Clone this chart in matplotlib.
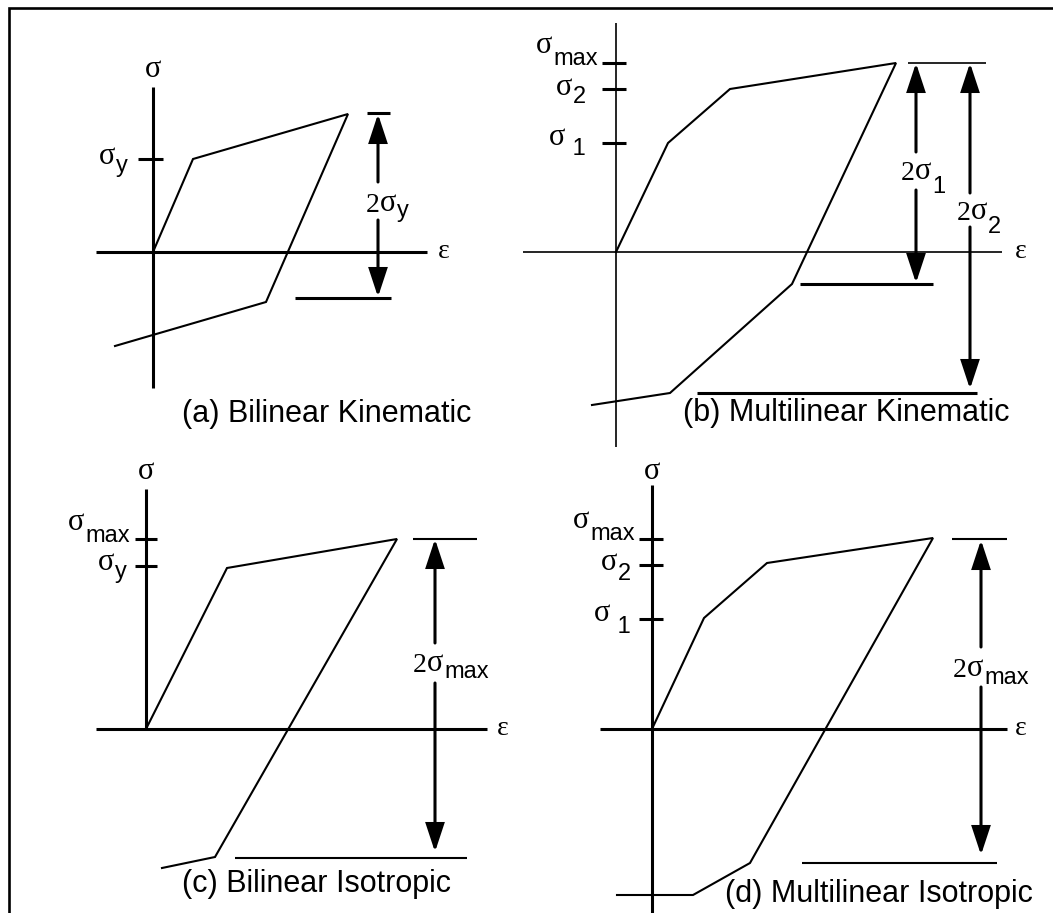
import matplotlib
matplotlib.use("Agg")
import matplotlib.pyplot as plt
from matplotlib.patches import FancyArrowPatch, ArrowStyle

W, H = 1053, 913
SERIF = "Liberation Serif"
SANS = "Liberation Sans"
SYM_SIZE = 22
EPS_SIZE = 20
SUB_SIZE = 17
CAP_SIZE = 22
PT = 0.72  # points per pixel at 100 dpi

# stress-strain paths: strain to the right, stress upward, origin where the axes cross
bk_eps = [0, 40, 195, 113, -38]
bk_sig = [0, 93, 138, -50, -94]
mk_eps = [0, 52, 114, 280, 176, 54, -24]
mk_sig = [0, 109, 163, 189, -32, -141, -153]
bi_eps = [0, 81, 251, 69, 16]
bi_sig = [0, 161, 190, -128, -139]
mi_eps = [0, 52, 115, 281, 98, 41, -35]
mi_sig = [0, 111, 166, 191, -134, -166, -166]

# stress levels marked on the sigma axis and their subscripts
bk_levels, bk_subs = [93], ["y"]
mk_levels, mk_subs = [189, 163, 109], ["max", "2", " 1"]
bi_levels, bi_subs = [190, 163], ["max", "y"]
mi_levels, mi_subs = [190, 164, 110], ["max", "2", " 1"]

captions = ["(a) Bilinear Kinematic", "(b) Multilinear Kinematic",
            "(c) Bilinear Isotropic", "(d) Multilinear Isotropic"]

fig = plt.figure(figsize=(W / 100, H / 100), dpi=100)

# outer frame
frame = fig.add_axes([0, 0, 1, 1])
frame.set_xlim(0, W)
frame.set_ylim(H, 0)
frame.axis("off")
frame.plot([9, 9, W], [H, 8, 8], color="black", lw=1.9, solid_joinstyle="miter")


def panel_axes(ox, oy):
    ax = fig.add_axes([0, 0, 1, 1])
    ax.set_xlim(-ox, W - ox)
    ax.set_ylim(oy - H, oy)
    ax.axis("off")
    ax.patch.set_visible(False)
    return ax


def label_right(ax, x, y, sub, raise_px):
    # subscript anchored at its right end, sigma placed just left of it
    t = ax.text(x, y, sub, ha="right", va="baseline", family=SANS, size=SUB_SIZE)
    ax.annotate("σ", xy=(0, 0), xycoords=t, xytext=(-0.5, raise_px * PT),
                textcoords="offset points", ha="right", va="bottom",
                family=SERIF, size=SYM_SIZE)


def label_left(ax, x, y, sub, drop_px):
    # "2σ" followed by a lowered subscript
    two = ax.text(x, y, "2", ha="left", va="baseline", family=SERIF, size=EPS_SIZE)
    sig = ax.annotate("σ", xy=(1, 0), xycoords=two, xytext=(0, 0),
                      textcoords="offset points", ha="left", va="bottom",
                      family=SERIF, size=SYM_SIZE)
    ax.annotate(sub, xy=(1, 0), xycoords=sig, xytext=(0.5, -drop_px * PT),
                textcoords="offset points", ha="left", va="bottom",
                family=SANS, size=SUB_SIZE)


def axes_lines(ax, exlim, sylim, lw, eps_at, sig_label=None):
    ax.plot(exlim, [0, 0], color="black", lw=lw, solid_capstyle="butt")
    ax.plot([0, 0], sylim, color="black", lw=lw, solid_capstyle="butt")
    ax.text(eps_at, -6, "ε", ha="left", va="baseline", family=SERIF, size=EPS_SIZE)
    if sig_label is not None:
        ax.text(0, sig_label, "σ", ha="center", va="baseline", family=SERIF, size=SYM_SIZE)


def dim_arrow(ax, x, top, bottom, gap_top, gap_bottom):
    style = ArrowStyle("-|>", head_length=17, head_width=5.6)
    for start, end in [(gap_top, top), (gap_bottom, bottom)]:
        ax.add_patch(FancyArrowPatch((x, start), (x, end), arrowstyle=style,
                                     mutation_scale=1, lw=2.2, color="black",
                                     shrinkA=0, shrinkB=0, joinstyle="miter"))


def bar(ax, sig, e0, e1, lw):
    ax.plot([e0, e1], [sig, sig], color="black", lw=lw, solid_capstyle="butt")


curve_kw = dict(color="black", lw=1.5, solid_joinstyle="miter")

# (a) bilinear kinematic
ax = panel_axes(153, 252)
axes_lines(ax, [-57, 274], [-136, 165], 2.2, 285, sig_label=175)
ax.plot(bk_eps, bk_sig, **curve_kw)
for lev, sub in zip(bk_levels, bk_subs):
    ax.plot([-15, 10], [lev, lev], color="black", lw=2.2, solid_capstyle="butt")
    label_right(ax, -25, lev - 13, sub, 6)
dim_arrow(ax, 225, max(bk_sig), -45, 70, 32)
bar(ax, max(bk_sig) + 1, 214, 237, 2.2)
bar(ax, -46, 142, 238, 2.2)
label_left(ax, 213, 40, "y", 4)
ax.text(29, -170, captions[0], ha="left", va="baseline", family=SANS, size=CAP_SIZE)

# (b) multilinear kinematic
ax = panel_axes(616, 252)
axes_lines(ax, [-93, 386], [-195, 229], 1.2, 399)
ax.plot(mk_eps, mk_sig, **curve_kw)
for lev, sub, off, r in zip(mk_levels, mk_subs, [-2, -14, -12], [10, 6, 8]):
    ax.plot([-14, 10], [lev, lev], color="black", lw=2.2, solid_capstyle="butt")
    label_right(ax, -18 if sub == "max" else -30, lev + off, sub, r)
dim_arrow(ax, 300, max(mk_sig), -31, 100, 62)
dim_arrow(ax, 354, max(mk_sig), -137, 59, 25)
bar(ax, max(mk_sig), 292, 370, 1.2)
bar(ax, -32, 184, 317, 2.2)
bar(ax, -141, 81, 361, 2.2)
label_left(ax, 285, 72, "1", 12)
label_left(ax, 341, 32, "2", 12)
ax.text(67, -169, captions[1], ha="left", va="baseline", family=SANS, size=CAP_SIZE)

# (c) bilinear isotropic
ax = panel_axes(146, 729)
axes_lines(ax, [-50, 341], [0, 240], 2.2, 351, sig_label=250)
ax.plot(bi_eps, bi_sig, **curve_kw)
for lev, sub, off, r in zip(bi_levels, bi_subs, [-3, -12], [10, 6]):
    ax.plot([-11, 11], [lev, lev], color="black", lw=2.2, solid_capstyle="butt")
    label_right(ax, -16 if sub == "max" else -19, lev + off, sub, r)
dim_arrow(ax, 289, max(bi_sig), -123, 86, 46)
bar(ax, max(bi_sig), 267, 331, 1.5)
bar(ax, -129, 89, 321, 1.5)
label_left(ax, 267, 57, "max", 5)
ax.text(36, -163, captions[2], ha="left", va="baseline", family=SANS, size=CAP_SIZE)

# (d) multilinear isotropic
ax = panel_axes(652, 729)
axes_lines(ax, [-52, 355], [-184, 244], 2.2, 363, sig_label=250)
ax.plot(mi_eps, mi_sig, **curve_kw)
for lev, sub, off, r in zip(mi_levels, mi_subs, [-1, -15, -14], [10, 8, 10]):
    ax.plot([-13, 11], [lev, lev], color="black", lw=2.2, solid_capstyle="butt")
    label_right(ax, -17 if sub == "max" else -21, lev + off, sub, r)
dim_arrow(ax, 329, max(mi_sig) - 2, -126, 82, 42)
bar(ax, max(mi_sig) - 1, 300, 355, 1.5)
bar(ax, -134, 150, 345, 1.5)
label_left(ax, 301, 52, "max", 6)
ax.text(73, -173, captions[3], ha="left", va="baseline", family=SANS, size=CAP_SIZE)

fig.savefig("out.png", dpi=100)
